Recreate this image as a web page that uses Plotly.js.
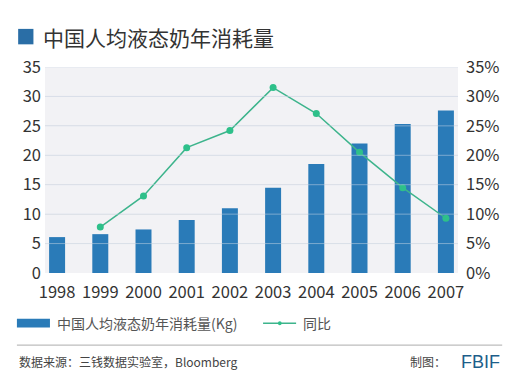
<!DOCTYPE html>
<html><head><meta charset="utf-8">
<script src="https://cdn.plot.ly/plotly-3.0.1.min.js"></script>
<style>html,body{margin:0;padding:0;background:#fff}#c{width:516px;height:384px}</style>
</head><body><div id="c"></div>
<script>
const years = ['1998','1999','2000','2001','2002','2003','2004','2005','2006','2007'];
const consumption = [6.1, 6.6, 7.4, 9.0, 11.0, 14.5, 18.5, 22.0, 25.3, 27.6];
const yoy = [null, 0.078, 0.131, 0.213, 0.242, 0.315, 0.271, 0.205, 0.145, 0.093];
const leftTicks = [0,5,10,15,20,25,30,35];
const titleText = '中国人均液态奶年消耗量';
const barName = '中国人均液态奶年消耗量(Kg)';
const lineName = '同比';
const sourceText = '数据来源：三钱数据实验室，Bloomberg';
const font = '"Noto Sans CJK SC", "Noto Sans", sans-serif';

const traces = [
  {type:'bar', x:years, y:consumption, name:barName, marker:{color:'#2a7bb8'}, width:0.37, showlegend:false, hoverinfo:'none'},
  {type:'scatter', mode:'lines+markers', x:years, y:yoy, yaxis:'y2', name:lineName,
   line:{color:'#3db48c', width:1.5}, marker:{color:'#2ec08a', size:7}, showlegend:false, hoverinfo:'none'}
];

const shapes = leftTicks.filter(v=>v>0).map(v=>({type:'line', xref:'paper', yref:'y', x0:0, x1:1, y0:v, y1:v, layer:'above',
  line:{color:'rgba(205,218,232,0.5)', width:1}}));
// title square
shapes.push({type:'rect', xref:'paper', yref:'paper', x0:-0.065, x1:-0.028, y0:1.11, y1:1.185, fillcolor:'#2a6ea6', line:{width:0}});
// legend bar swatch
shapes.push({type:'rect', xref:'paper', yref:'paper', x0:-0.068, x1:0.012, y0:-0.265, y1:-0.222, fillcolor:'#2a7bb8', line:{width:0}});
// legend line swatch
shapes.push({type:'line', xref:'paper', yref:'paper', x0:0.528, x1:0.608, y0:-0.244, y1:-0.244, line:{color:'#3db48c', width:1.5}});
shapes.push({type:'circle', xref:'paper', yref:'paper', x0:0.564, x1:0.573, y0:-0.254, y1:-0.234, fillcolor:'#2ec08a', line:{width:0}});
// separator line
shapes.push({type:'line', xref:'paper', yref:'paper', x0:-0.068, x1:1.107, y0:-0.35, y1:-0.35, line:{color:'#bdbdbd', width:1.2}});

const annotations = [
  {xref:'paper', yref:'paper', x:-0.01, y:1.148, xanchor:'left', yanchor:'middle', text:titleText, showarrow:false,
   font:{family:font, size:21, color:'#333'}},
  {xref:'paper', yref:'paper', x:0.025, y:-0.244, xanchor:'left', yanchor:'middle', text:barName, showarrow:false,
   font:{family:font, size:14, color:'#555'}},
  {xref:'paper', yref:'paper', x:0.62, y:-0.244, xanchor:'left', yanchor:'middle', text:lineName, showarrow:false,
   font:{family:font, size:14, color:'#555'}},
  {xref:'paper', yref:'paper', x:-0.068, y:-0.432, xanchor:'left', yanchor:'middle', text:sourceText, showarrow:false,
   font:{family:font, size:12, color:'#444'}},
  {xref:'paper', yref:'paper', x:0.975, y:-0.432, xanchor:'right', yanchor:'middle', text:'制图：', showarrow:false,
   font:{family:font, size:12, color:'#444'}},
  {xref:'paper', yref:'paper', x:1.107, y:-0.432, xanchor:'right', yanchor:'middle', text:'FBIF', showarrow:false,
   font:{family:'"Liberation Sans", Arial, sans-serif', size:18, color:'#1d5e8a'}}
];

const layout = {
  width:516, height:384,
  margin:{l:45, r:58, t:67, b:111},
  paper_bgcolor:'#fff', plot_bgcolor:'#f2f2f5',
  font:{family:font, color:'#333'},
  xaxis:{type:'category', range:[-0.28, 9.28], showgrid:false, zeroline:false, showline:false, ticks:'',
    tickfont:{size:16.5, color:'#333'}, ticklabelstandoff:7},
  yaxis:{range:[0,35], tickvals:leftTicks, showgrid:true, gridcolor:'#e6e6ea', zeroline:false, showline:false,
    tickfont:{size:16.5, color:'#333'}, ticklabelstandoff:3},
  yaxis2:{range:[0,0.35], overlaying:'y', side:'right', tickformat:'.0%', dtick:0.05, showgrid:false, zeroline:false,
    showline:false, tickfont:{size:16.5, color:'#333'}, ticklabelstandoff:7},
  shapes:shapes, annotations:annotations, showlegend:false
};
Plotly.newPlot('c', traces, layout, {staticPlot:true, displayModeBar:false});
</script></body></html>
